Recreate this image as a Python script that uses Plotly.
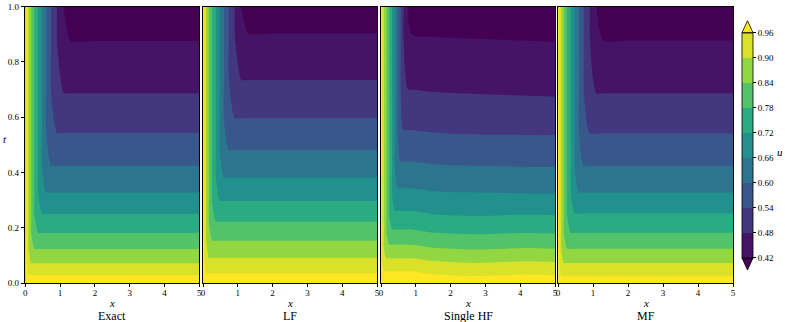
import numpy as np
import plotly.graph_objects as go
from plotly.colors import sample_colorscale

W, H = 785, 322

# contour levels and labels
levels = [0.42, 0.48, 0.54, 0.60, 0.66, 0.72, 0.78, 0.84, 0.90, 0.96]
level_text = ["0.42", "0.48", "0.54", "0.60", "0.66", "0.72", "0.78", "0.84", "0.90", "0.96"]
panel_names = ["Exact", "LF", "Single HF", "MF"]

# far-field u(t) (away from the x = 0 wall), read per panel
t_exact = [0, 0.028, 0.071, 0.123, 0.181, 0.25, 0.327, 0.424, 0.543, 0.686, 0.876, 1.0]
u_exact = [1.0, 0.96, 0.90, 0.84, 0.78, 0.72, 0.66, 0.60, 0.54, 0.48, 0.42, 0.38]
t_lf = [0, 0.034, 0.091, 0.153, 0.222, 0.297, 0.382, 0.481, 0.596, 0.734, 0.903, 1.0]
u_lf = [1.0, 0.96, 0.90, 0.84, 0.78, 0.72, 0.66, 0.60, 0.54, 0.48, 0.42, 0.386]
t_mf = [0, 0.024, 0.072, 0.124, 0.182, 0.251, 0.327, 0.423, 0.541, 0.686, 0.877, 1.0]
u_mf = [1.0, 0.96, 0.90, 0.84, 0.78, 0.72, 0.66, 0.60, 0.54, 0.48, 0.42, 0.38]

# wall profile u(x) near x = 0
x_wall = [0, 0.04, 0.095, 0.17, 0.26, 0.37, 0.48, 0.60, 0.74, 0.91, 1.1, 1.3, 2.0, 3.0, 4.0, 5.0]
u_wall = [1.0, 0.96, 0.90, 0.84, 0.78, 0.72, 0.66, 0.60, 0.54, 0.48, 0.42, 0.30, 0.30, 0.30, 0.30, 0.30]

# Single HF: wall profile + far field table (rows t_hf, columns x_hf_far)
x_hf_wall = [0, 0.03, 0.085, 0.16, 0.24, 0.32, 0.40, 0.48, 0.57, 0.65, 0.78]
u_hf_wall = [1.0, 0.96, 0.90, 0.84, 0.78, 0.72, 0.66, 0.60, 0.54, 0.48, 0.42]
t_hf = [0, 0.028, 0.076, 0.124, 0.179, 0.245, 0.324, 0.42, 0.535, 0.674, 0.873, 1.0]
x_hf_far = [0.9, 1.5, 2.0, 2.75, 3.5, 4.25, 5.0]
u_hf_far = [
    [1.0, 1.0, 1.0, 1.0, 1.0, 1.0, 1.0],
    [0.978, 0.964, 0.960, 0.955, 0.960, 0.963, 0.96],
    [0.917, 0.904, 0.900, 0.896, 0.900, 0.903, 0.90],
    [0.856, 0.844, 0.840, 0.836, 0.840, 0.843, 0.84],
    [0.794, 0.783, 0.780, 0.777, 0.780, 0.782, 0.78],
    [0.732, 0.723, 0.720, 0.717, 0.720, 0.722, 0.72],
    [0.672, 0.665, 0.663, 0.662, 0.661, 0.660, 0.66],
    [0.610, 0.605, 0.603, 0.602, 0.601, 0.600, 0.60],
    [0.548, 0.544, 0.542, 0.541, 0.541, 0.540, 0.54],
    [0.488, 0.485, 0.484, 0.483, 0.482, 0.481, 0.48],
    [0.427, 0.425, 0.424, 0.423, 0.422, 0.421, 0.42],
    [0.392, 0.390, 0.389, 0.388, 0.387, 0.386, 0.385],
]

# band colours as matplotlib contourf (extend='both') picks them from viridis
band_pos = [0.0] + [(i + 0.5) / 9 for i in range(9)] + [1.0]
band_colors = sample_colorscale("Viridis", band_pos)
fill_scale = [[k / 10, c] for k, c in enumerate(band_colors)]

z_exact = np.maximum.outer(np.array(u_exact), np.array(u_wall))
z_lf = np.maximum.outer(np.array(u_lf), np.array(u_wall))
z_mf = np.maximum.outer(np.array(u_mf), np.array(u_wall))

far = np.array(u_hf_far)
far_full = np.hstack([np.repeat(far[:, :1], len(x_hf_wall), axis=1), far])
wall_full = np.array(u_hf_wall + [0.30] * len(x_hf_far))
z_hf = np.maximum(far_full, wall_full[None, :])

panels = [
    (x_wall, t_exact, z_exact, 0.5),
    (x_wall, t_lf, z_lf, 0.5),
    (x_hf_wall + x_hf_far, t_hf, z_hf, 0.8),
    (x_wall, t_mf, z_mf, 0.7),
]

font = "Liberation Serif"
px_left = [25.3, 203, 381, 558]
px_right = [199.3, 377, 555, 733]
y_dom = [1 - 283 / H, 1 - 6.7 / H]


def label(x_px, y_px, text, size):
    return dict(x=x_px / W, y=1 - y_px / H, xref="paper", yref="paper", text=text,
                xanchor="center", yanchor="middle", showarrow=False,
                font=dict(family=font, size=size, color="black"))


fig = go.Figure()
for i, (xs, ts, z, smooth) in enumerate(panels):
    sfx = "" if i == 0 else str(i + 1)
    fig.add_trace(go.Contour(
        x=xs, y=ts, z=z,
        xaxis="x" + sfx, yaxis="y" + sfx,
        autocontour=False,
        # levels nudged a hair below the nominal values so nodes never sit exactly on them
        contours=dict(start=0.4199, end=0.9599, size=0.06, coloring="fill", showlines=False),
        colorscale=fill_scale, showscale=False,
        line=dict(width=0, smoothing=smooth),
        hoverinfo="skip",
    ))
    ax = dict(
        domain=[px_left[i] / W, px_right[i] / W], range=[0, 5],
        tickvals=[0, 1, 2, 3, 4, 5], ticktext=["0", "1", "2", "3", "4", "5"],
        ticks="outside", ticklen=3.5, tickwidth=0.8, tickcolor="black",
        ticklabelstandoff=-2,
        showline=True, mirror=True, linecolor="black", linewidth=0.8,
        showgrid=False, zeroline=False,
        tickfont=dict(family=font, size=9, color="black"),
        anchor="y" + sfx,
    )
    ay = dict(
        domain=y_dom, range=[0, 1],
        showline=True, mirror=True, linecolor="black", linewidth=0.8,
        showgrid=False, zeroline=False, anchor="x" + sfx,
    )
    if i == 0:
        ay.update(tickvals=[0, 0.2, 0.4, 0.6, 0.8, 1.0],
                  ticktext=["0.0", "0.2", "0.4", "0.6", "0.8", "1.0"],
                  ticks="outside", ticklen=3.5, tickwidth=0.8, tickcolor="black",
                  tickfont=dict(family=font, size=9, color="black"))
    else:
        ay.update(showticklabels=False, ticks="")
    fig.update_layout({"xaxis" + sfx: ax, "yaxis" + sfx: ay})

    xc = (px_left[i] + px_right[i]) / 2
    fig.add_annotation(label(xc, 303, "<i>x</i>", 11))
    fig.add_annotation(label(xc, 316, panel_names[i], 12))

# colorbar (9 discrete bands between the levels)
cb_scale = []
for k in range(9):
    cb_scale += [[k / 9, band_colors[k + 1]], [(k + 1) / 9, band_colors[k + 1]]]

cb_top, cb_bot = 32.7, 258.0
cb_l, cb_r = 742, 753
fig.add_trace(go.Scatter(
    x=[None], y=[None], mode="markers", showlegend=False, hoverinfo="skip",
    marker=dict(color=[0.42], cmin=0.42, cmax=0.96, colorscale=cb_scale, showscale=True,
                colorbar=dict(
                    thickness=cb_r - cb_l, thicknessmode="pixels",
                    len=(cb_bot - cb_top) / H, lenmode="fraction",
                    x=cb_l / W, xanchor="left", y=1 - (cb_top + cb_bot) / 2 / H, yanchor="middle",
                    xpad=0, ypad=0, outlinewidth=0.8, outlinecolor="black",
                    tickvals=levels, ticktext=level_text, ticks="outside",
                    ticklen=3, tickwidth=0.8, tickcolor="black",
                    tickfont=dict(family=font, size=9, color="black"),
                )),
))


def tri(y_base, y_tip, color):
    xl, xr, xm = cb_l / W, cb_r / W, (cb_l + cb_r) / 2 / W
    yb, yt = 1 - y_base / H, 1 - y_tip / H
    return dict(type="path", xref="paper", yref="paper",
                path=f"M {xl},{yb} L {xr},{yb} L {xm},{yt} Z",
                fillcolor=color, line=dict(color="black", width=0.8))


fig.add_shape(tri(cb_top, 20.7, band_colors[-1]))
fig.add_shape(tri(cb_bot, 270.0, band_colors[0]))

fig.add_annotation(label(5, 139, "<i>t</i>", 11))
fig.add_annotation(label(780, 152, "<i>u</i>", 11))

fig.update_layout(
    width=W, height=H, margin=dict(l=0, r=0, t=0, b=0, autoexpand=False),
    paper_bgcolor="white", plot_bgcolor="white", showlegend=False,
)

# drop the page's default body margin so the figure sits at the window's corner
fig.write_html("out.html", config={"displayModeBar": False},
               post_script="document.body.style.margin='0';")
